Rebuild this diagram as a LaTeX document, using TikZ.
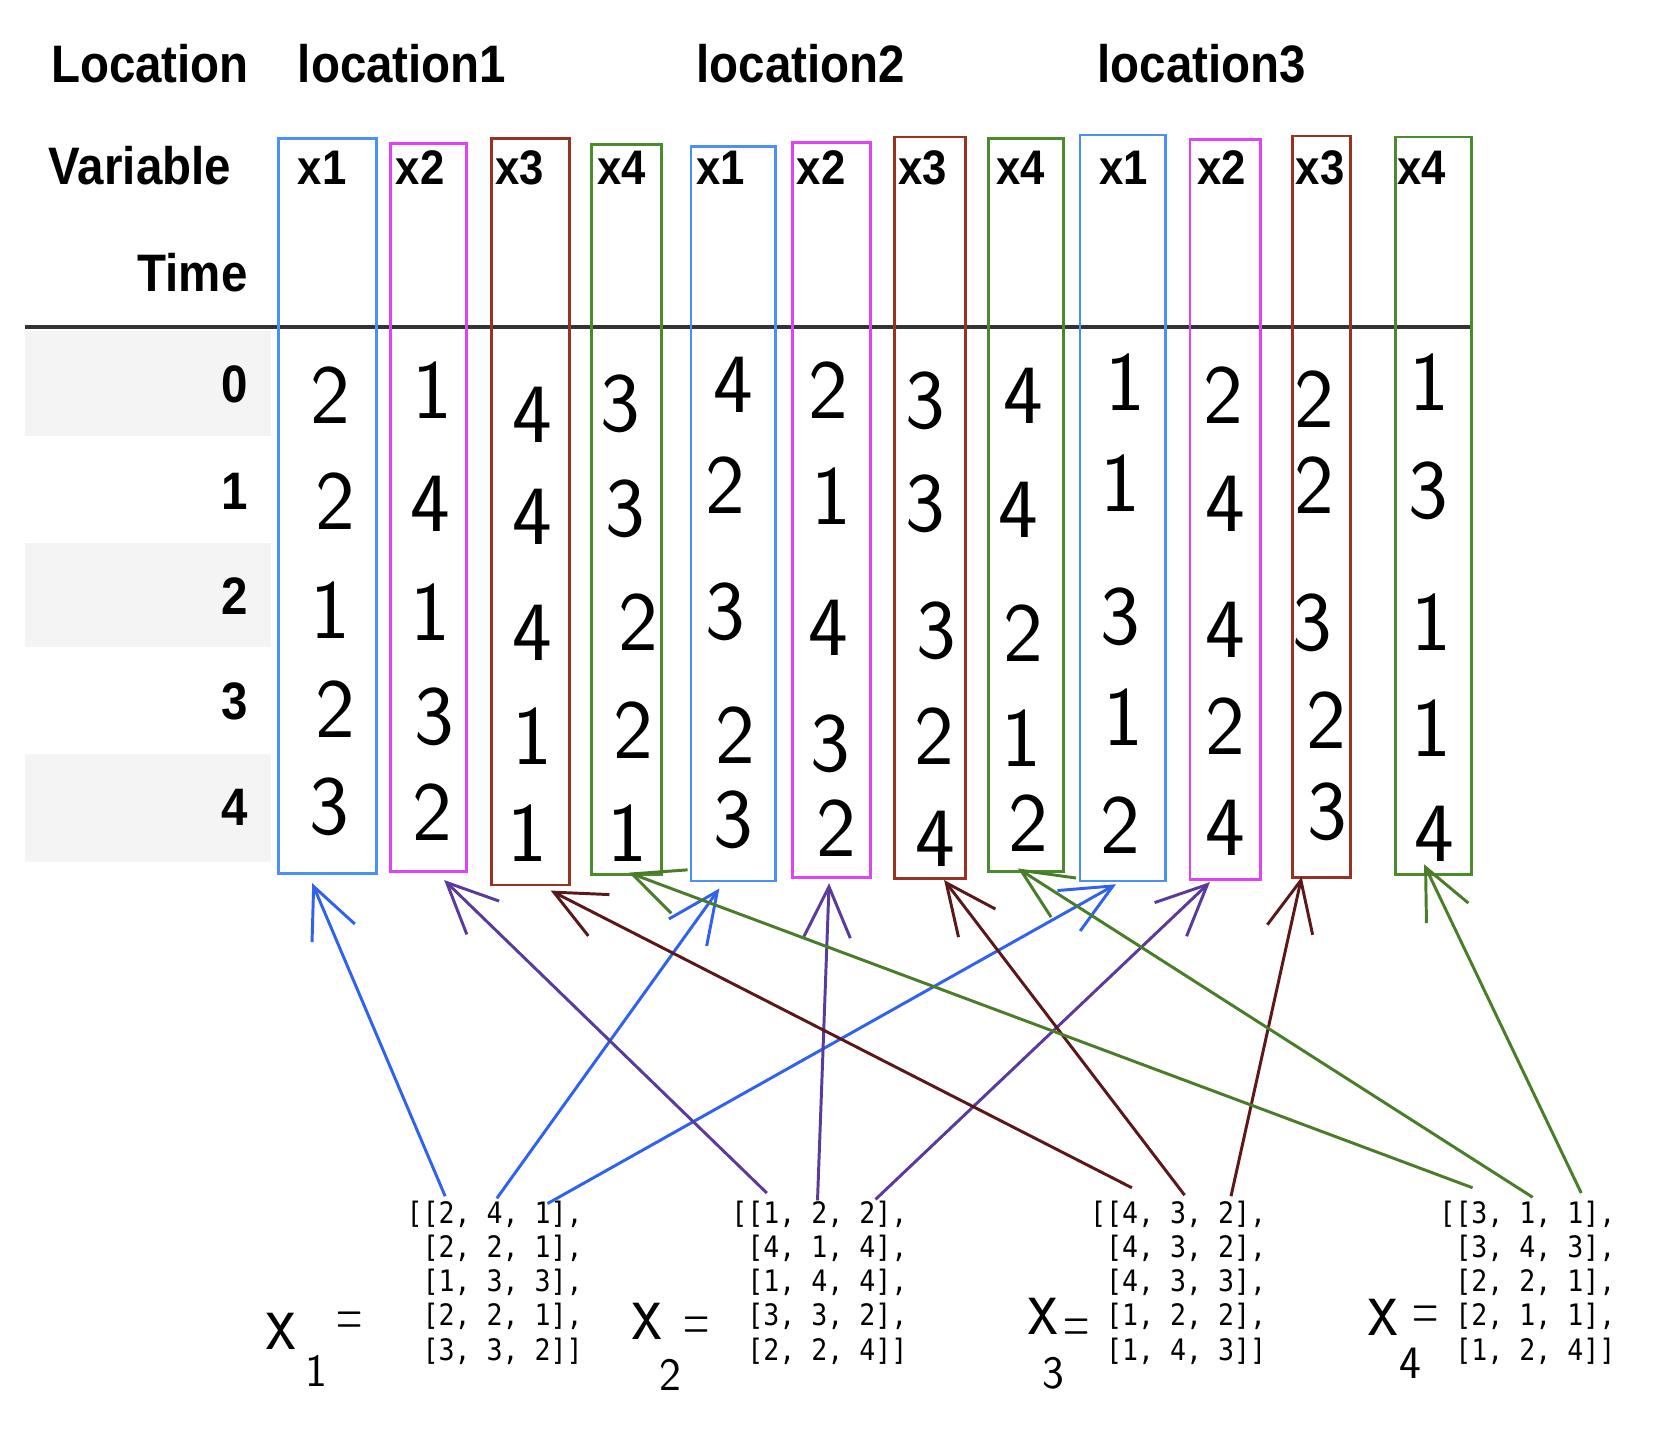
\documentclass[tikz,border=0pt]{standalone}
\usepackage{fontspec}
\newfontfamily\hdrfont[FakeStretch=0.9]{Liberation Sans}
\newfontfamily\matfont[FakeStretch=0.9]{DejaVu Sans Mono}
\usetikzlibrary{arrows.meta,fit,calc}
\definecolor{boxblue}{HTML}{4A90F5}
\definecolor{boxmag}{HTML}{DE44F5}
\definecolor{boxbrown}{HTML}{983222}
\definecolor{boxgreen}{HTML}{4C8A2E}
\definecolor{arrblue}{HTML}{2F62EE}
\definecolor{arrpurple}{HTML}{5A3A9A}
\definecolor{arrbrown}{HTML}{5A1818}
\definecolor{arrgreen}{HTML}{4A7D2A}
\definecolor{stripe}{HTML}{F4F4F4}
\definecolor{rulegray}{HTML}{333333}
\begin{document}
\begin{tikzpicture}[x=0.5pt,y=-0.5pt,
  hdr/.style={font=\hdrfont\bfseries\fontsize{25}{30}\selectfont, inner sep=0, anchor=base west},
  hdrr/.style={hdr, anchor=base east},
  varlab/.style={font=\hdrfont\bfseries\fontsize{23}{28}\selectfont, inner sep=0, anchor=base west},
  colbox/.style={draw, line width=1.25pt, inner sep=0, fill=none},
  hw/.style={font=\sffamily\fontsize{40}{40}\selectfont, inner sep=0},
  hwx/.style={font=\sffamily\fontsize{40}{40}\selectfont, inner sep=0},
  hwsub/.style={font=\sffamily\fontsize{22}{22}\selectfont, inner sep=0},
  hweq/.style={font=\sffamily\fontsize{17}{17}\selectfont, inner sep=0},
  mat/.style={font=\matfont\fontsize{14}{16.2}\selectfont, align=left, anchor=north west, inner sep=0},
  conn/.style={line width=1.4pt, -{Straight Barb[length=24pt,width=22pt,line width=1.4pt]}}
]
\useasboundingbox (0,0) rectangle (1568,1357);

% row stripes
\fill[stripe] (24,314) rectangle (257,413);
\fill[stripe] (24,515) rectangle (257,613);
\fill[stripe] (24,715) rectangle (257,817);

% header rule
\draw[rulegray, line width=1.5pt] (24,310) -- (1395,310);

% header texts
\node[hdr] (locH) at (48,78) {Location};
\node[hdr] (loc1) at (282,78) {location1};
\node[hdr] (loc2) at (660,78) {location2};
\node[hdr] (loc3) at (1040,78) {location3};
\node[hdr] (varH) at (46,175) {Variable};
\node[hdrr] (timeH) at (235,276) {Time};

% row labels
\node[hdrr] (r0) at (235,382) {0};
\node[hdrr] (r1) at (235,483) {1};
\node[hdrr] (r2) at (235,583) {2};
\node[hdrr] (r3) at (235,682) {3};
\node[hdrr] (r4) at (235,783) {4};

% boxes
\node[colbox, draw=boxblue,  fit={(264,131) (357,828)}]  (b1) {};
\node[colbox, draw=boxmag,   fit={(370,136) (442,826)}]  (b2) {};
\node[colbox, draw=boxbrown, fit={(466,131) (540,839)}]  (b3) {};
\node[colbox, draw=boxgreen, fit={(561,137) (627,829)}]  (b4) {};
\node[colbox, draw=boxblue,  fit={(655,139) (735,835)}]  (b5) {};
\node[colbox, draw=boxmag,   fit={(751,135) (825,832)}]  (b6) {};
\node[colbox, draw=boxbrown, fit={(848,130) (915,833)}]  (b7) {};
\node[colbox, draw=boxgreen, fit={(937,131) (1008,826)}] (b8) {};
\node[colbox, draw=boxblue,  fit={(1024,128) (1105,835)}] (b9) {};
\node[colbox, draw=boxmag,   fit={(1128,132) (1195,834)}] (b10) {};
\node[colbox, draw=boxbrown, fit={(1225,129) (1280,832)}] (b11) {};
\node[colbox, draw=boxgreen, fit={(1323,130) (1395,829)}] (b12) {};

% variable labels
\foreach \n/\x/\t in {1/282/x1, 2/375/x2, 3/469/x3, 4/566/x4, 5/660/x1, 6/755/x2,
  7/851/x3, 8/944/x4, 9/1042/x1, 10/1135/x2, 11/1228/x3, 12/1324/x4}
  \node[varlab] (v\n) at (\x,175) {\t};

% handwritten values
\foreach \n/\x/\y/\t in {
  1a/313/375/2, 1b/318/475/2, 1c/313/578/1, 1d/318/672/2, 1e/312/765/3,
  2a/410/370/1, 2b/408/478/4, 2c/408/580/1, 2d/412/680/3, 2e/410/770/2,
  3a/505/393/4, 3b/505/490/4, 3c/505/600/4, 3d/505/698/1, 3e/500/790/1,
  4a/588/383/3, 4b/593/482/3, 4c/605/590/2, 4d/600/692/2, 4e/595/790/1,
  5a/695/365/4, 5b/688/460/2, 5c/688/580/3, 5d/697/697/2, 5e/695/777/3,
  6a/785/370/2, 6b/788/470/1, 6c/785/595/4, 6d/787/705/3, 6e/793/785/2,
  7a/877/380/3, 7b/877/478/3, 7c/888/598/3, 7d/886/698/2, 7e/887/795/4,
  8a/970/375/4, 8b/965/483/4, 8c/970/600/2, 8d/968/700/1, 8e/975/780/2,
  9a/1067/362/1, 9b/1062/458/1, 9c/1062/585/3, 9d/1065/680/1, 9e/1062/782/2,
  10a/1160/375/2, 10b/1162/478/4, 10c/1162/597/4, 10d/1162/688/2, 10e/1162/785/4,
  11a/1246/378/2, 11b/1246/460/2, 11c/1244/590/3, 11d/1257/683/2, 11e/1258/770/3,
  12a/1355/362/1, 12b/1354/465/3, 12c/1357/590/1, 12d/1357/690/1, 12e/1360/790/4}
  \node[hw] (d\n) at (\x,\y) {\t};

% matrices
\node[mat] (m1) at (385,1138) {[[2, 4, 1],\\\hphantom{[}[2, 2, 1],\\\hphantom{[}[1, 3, 3],\\\hphantom{[}[2, 2, 1],\\\hphantom{[}[3, 3, 2]]};
\node[mat] (m2) at (693,1138) {[[1, 2, 2],\\\hphantom{[}[4, 1, 4],\\\hphantom{[}[1, 4, 4],\\\hphantom{[}[3, 3, 2],\\\hphantom{[}[2, 2, 4]]};
\node[mat] (m3) at (1033,1138) {[[4, 3, 2],\\\hphantom{[}[4, 3, 2],\\\hphantom{[}[4, 3, 3],\\\hphantom{[}[1, 2, 2],\\\hphantom{[}[1, 4, 3]]};
\node[mat] (m4) at (1364,1138) {[[3, 1, 1],\\\hphantom{[}[3, 4, 3],\\\hphantom{[}[2, 2, 1],\\\hphantom{[}[2, 1, 1],\\\hphantom{[}[1, 2, 4]]};

% handwritten labels x_i =
\node[hwx] (lx1) at (266,1262) {\scalebox{0.8}[1]{x}};
\node[hwsub] (ls1) at (300,1300) {1};
\node[hweq] (le1) at (331,1256) {\scalebox{1}[2]{=}};
\node[hwx] (lx2) at (613,1253) {\scalebox{0.8}[1]{x}};
\node[hwsub] (ls2) at (636,1303) {2};
\node[hweq] (le2) at (660,1261) {\scalebox{1}[2]{=}};
\node[hwx] (lx3) at (989,1248) {\scalebox{0.8}[1]{x}};
\node[hwsub] (ls3) at (999,1302) {3};
\node[hweq] (le3) at (1021,1262) {\scalebox{1}[2]{=}};
\node[hwx] (lx4) at (1311,1249) {\scalebox{0.8}[1]{x}};
\node[hwsub] (ls4) at (1337,1292) {4};
\node[hweq] (le4) at (1351,1250) {\scalebox{1}[2]{=}};

% arrow tails (first-row entries of each matrix)
\coordinate (s1) at (422,1134);
\coordinate (s2) at (471,1136);
\coordinate (s3) at (519,1141);
\coordinate (s4) at (727,1131);
\coordinate (s5) at (775,1138);
\coordinate (s6) at (830,1137);
\coordinate (s7) at (1073,1126);
\coordinate (s8) at (1123,1133);
\coordinate (s9) at (1167,1134);
\coordinate (s10) at (1396,1126);
\coordinate (s11) at (1453,1135);
\coordinate (s12) at (1499,1131);

% arrow tips at the boxes
\coordinate (t1) at ($(296,0 |- b1.south)+(0,8)$);
\coordinate (t2) at ($(682,0 |- b5.south)+(0,6)$);
\coordinate (t3) at ($(1058,0 |- b9.south)+(0,2)$);
\coordinate (t4) at ($(421,0 |- b2.south)+(0,7)$);
\coordinate (t5) at ($(786,0 |- b6.south)+(0,4)$);
\coordinate (t6) at ($(1147,0 |- b10.south)+(0,1)$);
\coordinate (t7) at ($(522,0 |- b3.south)+(0,4)$);
\coordinate (t8) at ($(895,0 |- b7.south)+(0,0)$);
\coordinate (t9) at ($(1234,0 |- b11.south)+(0,-2)$);
\coordinate (t10) at ($(596,0 |- b4.south)+(0,-3)$);
\coordinate (t11) at ($(965,0 |- b8.south)+(0,-4)$);
\coordinate (t12) at ($(1350,0 |- b12.south)+(0,-11)$);

% connectors
\draw[conn, arrblue] (s1) -- (t1);
\draw[conn, arrblue] (s2) -- (t2);
\draw[conn, arrblue] (s3) -- (t3);
\draw[conn, arrpurple] (s4) -- (t4);
\draw[conn, arrpurple] (s5) -- (t5);
\draw[conn, arrpurple] (s6) -- (t6);
\draw[conn, arrbrown] (s7) -- (t7);
\draw[conn, arrbrown] (s8) -- (t8);
\draw[conn, arrbrown] (s9) -- (t9);
\draw[conn, arrgreen] (s10) -- (t10);
\draw[conn, arrgreen] (s11) -- (t11);
\draw[conn, arrgreen] (s12) -- (t12);
\end{tikzpicture}
\end{document}
